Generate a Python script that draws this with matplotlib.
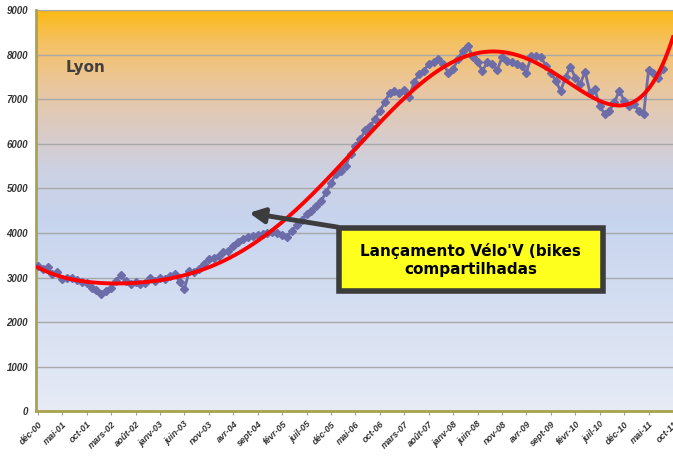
import numpy as np
import matplotlib.pyplot as plt
from matplotlib.colors import LinearSegmentedColormap
from matplotlib.patches import Rectangle

# monthly counts, déc-00 ..
values = [3270, 3200, 3230, 3080, 3120, 2970, 2990, 3000, 2950, 2900,
          2870, 2760, 2720, 2640, 2700, 2760, 2930, 3050, 2920, 2860,
          2890, 2850, 2870, 2980, 2930, 2990, 2970, 3040, 3090, 2900,
          2740, 3150, 3130, 3200, 3310, 3420, 3430, 3490, 3570, 3600,
          3700, 3790, 3870, 3900, 3940, 3950, 3980, 4000, 4020, 3990,
          3960, 3920, 4050, 4170, 4280, 4430, 4500, 4610, 4720, 4910,
          5120, 5320, 5400, 5510, 5770, 5960, 6100, 6300, 6400, 6550,
          6740, 6930, 7150, 7190, 7150, 7200, 7040, 7380, 7560, 7640,
          7790, 7830, 7900, 7790, 7600, 7680, 7900, 8090, 8200, 7940,
          7830, 7640, 7830, 7790, 7650, 7940, 7860, 7830, 7790, 7750,
          7600, 7970, 7960, 7940, 7750, 7600, 7410, 7190, 7490, 7730,
          7480, 7340, 7620, 7150, 7230, 6850, 6670, 6740, 6930, 7190,
          6970, 6850, 6890, 6740, 6670, 7650, 7600, 7470, 7680]

tick_labels = ['déc-00', 'mai-01', 'oct-01', 'mars-02', 'août-02', 'janv-03',
               'juin-03', 'nov-03', 'avr-04', 'sept-04', 'févr-05', 'juil-05',
               'déc-05', 'mai-06', 'oct-06', 'mars-07', 'août-07', 'janv-08',
               'juin-08', 'nov-08', 'avr-09', 'sept-09', 'févr-10', 'juil-10',
               'déc-10', 'mai-11', 'oct-11']

months = np.arange(len(values))
n_months = 5 * (len(tick_labels) - 1)

fig = plt.figure(figsize=(6.73, 4.59), dpi=100)
ax = fig.add_axes([0.054, 0.104, 0.946, 0.874])

# gradient background
cmap = LinearSegmentedColormap.from_list('bg', [
    (0.0, '#E6EBF6'), (0.48, '#C7D4EE'), (0.60, '#CDD1E2'),
    (0.71, '#DCCBC2'), (0.82, '#EBC698'), (0.92, '#F5C162'), (1.0, '#FCBA12')])
grad = np.linspace(0, 1, 256).reshape(-1, 1)
ax.imshow(grad, cmap=cmap, origin='lower', aspect='auto',
          extent=[0, 1, 0, 1], transform=ax.transAxes, zorder=0)

ax.set_xlim(-0.3, n_months)
ax.set_ylim(0, 9000)
ax.set_yticks(range(0, 9001, 1000))
ax.grid(axis='y', color='#A8A8A8', lw=1, zorder=1)

ax.plot(months, values, color='#6C6CA8', lw=2, marker='D', ms=4.5,
        mec='#6C6CA8', zorder=3)

# polynomial trend
coef = np.polyfit(months, values, 6)
xs = np.linspace(0, n_months, 400)
ax.plot(xs, np.polyval(coef, xs), color='#FF0000', lw=2.8, zorder=4)

ax.set_xticks(np.arange(0, n_months + 1, 5))
ax.set_xticklabels(tick_labels, rotation=45, ha='right', rotation_mode='anchor',
                   fontsize=6.5, fontweight='bold', fontstyle='italic',
                   family='Liberation Sans', color='#333333')
for lab in ax.get_yticklabels():
    lab.set_fontsize(7)
    lab.set_fontweight('bold')
    lab.set_fontstyle('italic')
    lab.set_family('Liberation Sans')
    lab.set_color('#333333')
ax.tick_params(axis='y', length=0, pad=6)
ax.tick_params(axis='x', length=3, color='#A0A0A0', pad=3)

for s in ['top', 'right']:
    ax.spines[s].set_visible(False)
for s in ['left', 'bottom']:
    ax.spines[s].set_color('#A8A44E')
    ax.spines[s].set_linewidth(2)

ax.text(0.077, 0.858, 'Lyon', transform=ax.transAxes, fontsize=11,
        fontweight='bold', color='#404040', ha='center', va='center')

# annotation box and arrow
ax.annotate('', xy=(42.7, 4460), xytext=(62, 4120),
            arrowprops=dict(arrowstyle='-|>', color='#3C3C3C', lw=3.5,
                            mutation_scale=22), zorder=5)
ax.add_patch(Rectangle((61.6, 2690), 54.1, 1430, facecolor='#FFFF1E',
                       edgecolor='#3C3C3C', lw=4, zorder=6))
ax.text(88.6, 3400, "Lançamento Vélo'V (bikes\ncompartilhadas", ha='center',
        va='center', fontsize=11, fontweight='bold', color='black',
        linespacing=1.25, zorder=7)

fig.savefig('out.png', dpi=100)
